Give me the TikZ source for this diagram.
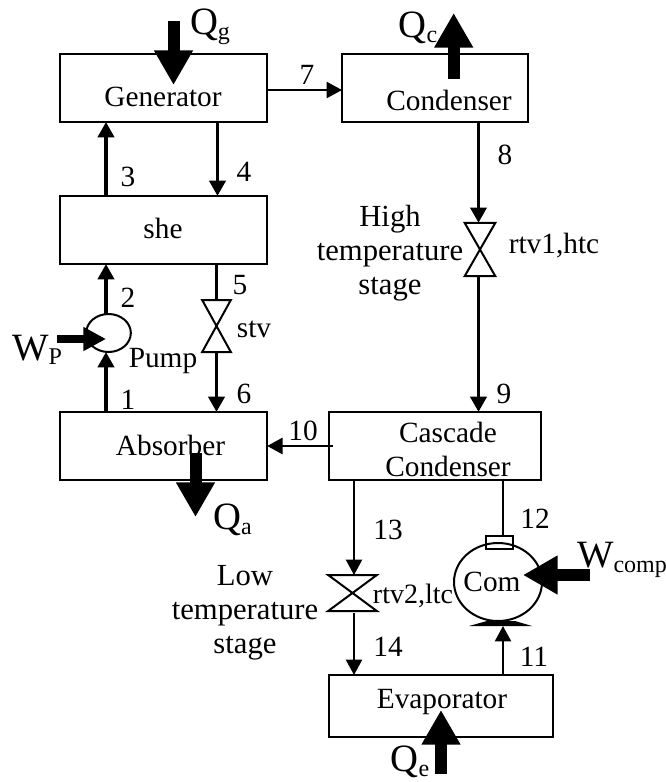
\documentclass[tikz,border=0pt]{standalone}
\usepackage{fontspec}
\setmainfont{Liberation Serif}
\usetikzlibrary{arrows.meta,positioning,shapes.geometric}
\newcommand{\sublbl}[2]{#1\raisebox{-0.25ex}{\fontsize{18}{18}\selectfont #2}}
\tikzset{
  blk/.style   ={draw=black,line width=1.5pt,inner sep=0pt,outer sep=0pt},
  valve/.style ={inner sep=0pt,outer sep=0pt},
  vline/.style ={draw=black,line width=1.5pt},
  lbl/.style   ={font=\fontsize{22}{25.5}\selectfont,inner sep=0pt,align=center},
  stagelbl/.style={lbl,font=\fontsize{23}{25.5}\selectfont},
  big/.style   ={font=\fontsize{29}{30}\selectfont,inner sep=0pt},
  sig/.style   ={-{Triangle[length=11.5pt,width=12pt]},draw=black,line width=2.9pt},
  fine/.style  ={-{Triangle[length=11.5pt,width=12pt]},draw=black,line width=1.7pt},
  bar/.style   ={draw=black,line width=2.9pt},
  heat/.style  ={-{Triangle[length=26pt,width=27.5pt]},draw=black,line width=9pt},
  work/.style  ={-{Triangle[length=17pt,width=17pt]},draw=black,line width=6pt},
}
\begin{document}
\begin{tikzpicture}[x=0.75pt,y=0.75pt]
\useasboundingbox (0,0) rectangle (666,-782);
% boxes
\node[blk,minimum width=155.5pt,minimum height=51pt] (gen) at (163.5,-88) {};
\node[blk,minimum width=139.5pt,minimum height=51pt] (cond) at (435,-88) {};
\node[blk,minimum width=155.5pt,minimum height=51pt] (she) at (163.5,-230) {};
\node[blk,minimum width=155.5pt,minimum height=51pt] (abs) at (163.5,-446) {};
\node[blk,minimum width=159pt,minimum height=51pt] (casc) at (435,-446) {};
\node[blk,minimum width=168pt,minimum height=46.5pt] (evap) at (441,-706) {};
\node[lbl] (gentxt) at (163,-97) {Generator};
\node[lbl] (condtxt) at (449,-100) {Condenser};
\node[lbl] (shetxt) at (163,-228) {she};
\node[lbl] (abstxt) at (170.5,-445) {Absorber};
\node[lbl] (casctxt) at (448,-449) {Cascade\\Condenser};
\node[lbl] (evaptxt) at (442,-702) {Evaporator};

% pump and compressor
\node[blk,ellipse,minimum width=33.5pt,minimum height=28.5pt] (pump) at (108.5,-333) {};
\node[lbl] (pumptxt) at (163,-361) {Pump};
\node[blk,ellipse,minimum width=66pt,minimum height=58.5pt] (com) at (498,-582) {};
\node[lbl] (comtxt) at (492,-582) {Com};
\node[blk,minimum width=20pt,minimum height=10pt] (comtop) at (499.5,-542.5) {};
\coordinate (combase) at (503,-626);
\fill (469,-626) -- (532,-626) -- (515,-621) -- (487,-621) -- cycle;

% valves
\node[valve,minimum width=21.5pt,minimum height=39pt] (stv) at (216.5,-326) {};
\node[valve,minimum width=23pt,minimum height=40pt] (rtva) at (480,-249.5) {};
\node[valve,minimum width=36.5pt,minimum height=27pt] (rtvb) at (352.5,-593) {};
\draw[vline] (stv.north west) -- (stv.south east) -- (stv.south west) -- (stv.north east) -- cycle;
\draw[vline] (rtva.north west) -- (rtva.south east) -- (rtva.south west) -- (rtva.north east) -- cycle;
\draw[vline] (rtvb.north west) -- (rtvb.south east) -- (rtvb.south west) -- (rtvb.north east) -- cycle;
\node[lbl] (stvtxt) at (254,-329) {stv};
\node[lbl] (rtvatxt) at (554,-246) {rtv1,htc};
\node[lbl,font=\fontsize{21}{25}\selectfont] (rtvbtxt) at (413,-596) {rtv2,ltc};
\node[stagelbl] (hightxt) at (390,-253) {High\\temperature\\stage};
\node[stagelbl] (lowtxt) at (245,-613) {Low\\temperature\\stage};

% flow lines
\coordinate (xa) at (106,0);
\coordinate (xb) at (217.5,0);
\coordinate (xc) at (354,0);
\coordinate (xd) at (478.5,0);
\draw[sig] (xa |- she.north) -- (xa |- gen.south);
\draw[sig] (xb |- gen.south) -- (xb |- she.north);
\draw[sig] (xa |- pump.north) -- (xa |- she.south);
\draw[sig] (xa |- abs.north) -- (xa |- pump.south);
\draw[bar] (she.south -| stv.north) -- (stv.north);
\draw[sig] (stv.south) -- (stv.south |- abs.north);
\draw[fine] (gen.east |- 0,-90) -- (cond.west |- 0,-90);
\draw[sig] (xd |- cond.south) -- (xd |- rtva.north);
\draw[sig] (xd |- rtva.south) -- (xd |- casc.north);
\draw[fine,line width=2pt] ([xshift=3pt]casc.west) -- (abs.east);
\draw[fine] (xc |- casc.south) -- (xc |- rtvb.north);
\draw[fine] ([yshift=-1.5pt]xc |- rtvb.south) -- (xc |- evap.north);
\draw[fine] (combase |- evap.north) -- (combase);
\draw[vline] (combase |- casc.south) -- (combase |- comtop.north);

% heat and work
\coordinate (qgout) at (173.5,-21);
\coordinate (qgin) at (173.5,-85);
\coordinate (qcout) at (453.7,-13);
\coordinate (qcin) at (453.7,-79);
\coordinate (qaout) at (195.5,-517);
\coordinate (qain) at (195.5,-453);
\coordinate (qeout) at (441,-774);
\coordinate (qein) at (441,-710);
\coordinate (wpout) at (57,-339);
\coordinate (wcout) at (590,-575);
\coordinate (wcin) at (523,-575);
\draw[heat] (qgout) -- (qgin);
\draw[heat] (qcin) -- (qcout);
\draw[heat] (qain) -- (qaout);
\draw[heat] (qeout) -- (qein);
\draw[work] (wpout) -- (xa |- wpout);
\draw[heat] (wcout) -- (wcin);
\node[big] (qglbl) at (210,-27) {\sublbl{Q}{g}};
\node[big] (qclbl) at (418,-28) {\sublbl{Q}{c}};
\node[big] (qalbl) at (232.5,-520) {\sublbl{Q}{a}};
\node[big] (qelbl) at (410,-762) {\sublbl{Q}{e}};
\node[big] (wplbl) at (37,-350) {\sublbl{W}{P}};
\node[big] (wclbl) at (622,-560) {\sublbl{W}{comp}};

% state points
\node[lbl] (na) at (128,-400) {1};
\node[lbl] (nb) at (128,-298) {2};
\node[lbl] (nc) at (128,-177) {3};
\node[lbl] (nd) at (244,-172) {4};
\node[lbl] (ne) at (240,-285) {5};
\node[lbl] (nf) at (244,-394) {6};
\node[lbl] (ng) at (307,-75) {7};
\node[lbl] (nh) at (505,-155) {8};
\node[lbl] (ni) at (504,-394) {9};
\node[lbl] (nj) at (303,-431) {10};
\node[lbl] (nk) at (534,-657) {11};
\node[lbl] (nl) at (535,-519) {12};
\node[lbl] (nm) at (388,-530) {13};
\node[lbl] (nn) at (388,-647) {14};
\end{tikzpicture}
\end{document}
